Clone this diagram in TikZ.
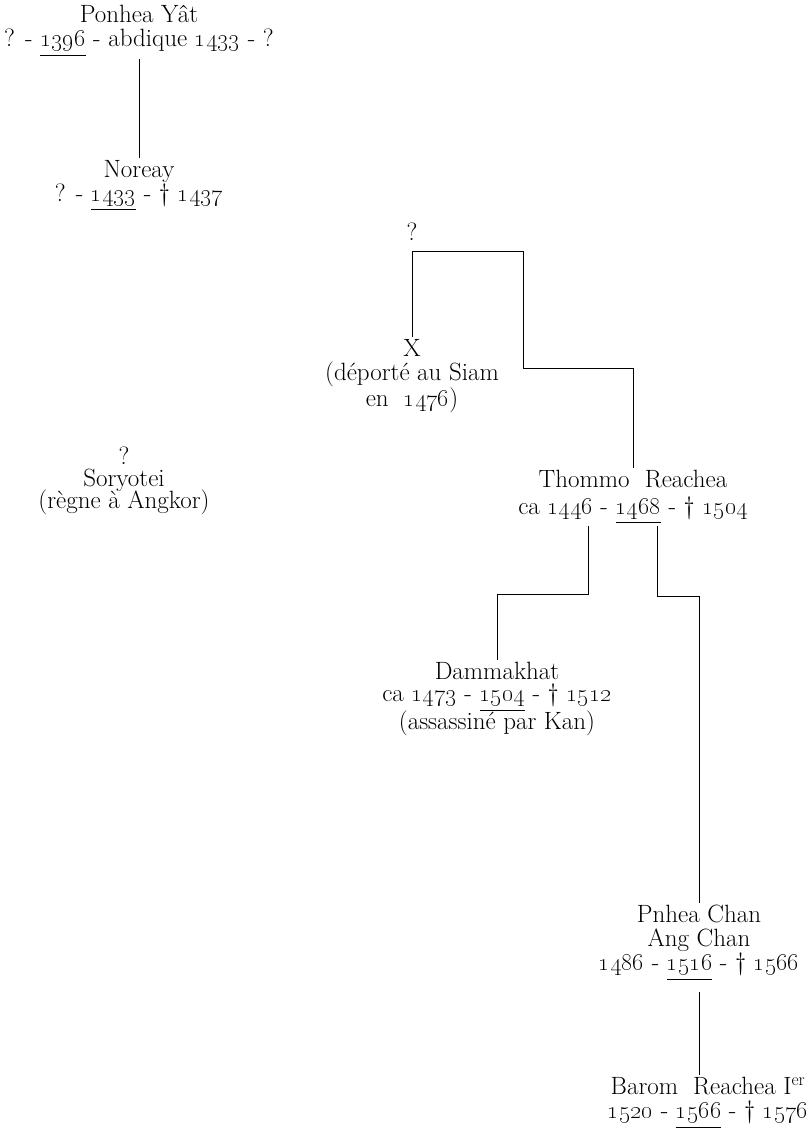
\documentclass[tikz,border=0pt]{standalone}
\usepackage{amsmath,amssymb}
\usepackage{tikz}
\usetikzlibrary{positioning}
\newcommand{\an}[1]{\oldstylenums{#1}}
\newcommand{\regne}[1]{\underline{\an{#1}}}
\tikzset{
    roi/.style={align=center, inner sep=2pt, font=\fontsize{25}{24}\selectfont},
    lien/.style={line width=0.5pt, line cap=butt}
}

\begin{document}
\begin{tikzpicture}[x=1pt, y=-1pt]
    \useasboundingbox (0,0) rectangle (807,1144);
    \node[roi] (ponhea) at (139,31) {Ponhea Y\^at\\? - \regne{1396} - abdique \an{1433} - ?};
    \node[roi] (noreay) at (139,186) {Noreay\\? - \regne{1433} - \dag\ \an{1437}};
    \node[roi] (unk) at (412,232) {?};
    \node[roi] (xdep) at (412,376) {X\\(d\'eport\'e au Siam\\en\ \ \an{1476})};
    \node[roi] (soryotei) at (124,481) {?\\[-2pt]Soryotei\\[-2pt](r\`egne \`a Angkor)};
    \node[roi] (thommo) at (633,497) {Thommo\ \ Reachea\\[3pt]ca \an{1446} - \regne{1468} - \dag\ \an{1504}};
    \node[roi] (dammakhat) at (497,699) {Dammakhat\\[-2pt]ca \an{1473} - \regne{1504} - \dag\ \an{1512}\\[-2pt](assassin\'e par Kan)};
    \node[roi] (chan) at (699,943) {Pnhea Chan\\Ang Chan\\\an{1486} - \regne{1516} - \dag\ \an{1566}};
    \node[roi] (barom) at (708,1103) {Barom\ \ Reachea I\textsuperscript{er}\\\an{1520} - \regne{1566} - \dag\ \an{1576}};
    \coordinate (fork) at (523,251);
    \coordinate (step) at (523,368);
    \coordinate (tleft) at ([xshift=-45pt]thommo.south);
    \coordinate (tright) at ([xshift=24pt]thommo.south);
    \draw[lien] (ponhea.south) -- (noreay.north);
    \draw[lien] (xdep.north) |- (fork) -- (step) -| (thommo.north);
    \draw[lien] (tleft) -- ++(0,68) -| (dammakhat.north);
    \draw[lien] (tright) -- ++(0,70) -| (chan.north);
    \draw[lien] ([yshift=-9pt]chan.south) -- (chan.south |- barom.north);
\end{tikzpicture}
\end{document}
